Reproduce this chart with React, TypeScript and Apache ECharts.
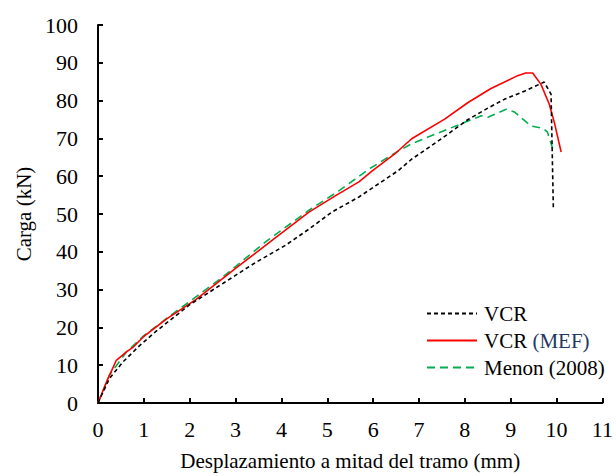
import React, { useEffect, useRef } from "react";
import * as echarts from "echarts";

const vcrX = [0, 0.25, 0.54, 0.9, 1.27, 2.0, 2.72, 3.44, 4.1, 4.6, 5.1, 5.69, 6.12, 6.55, 6.84, 7.5, 8.07, 8.5, 8.87, 9.3, 9.73, 9.88, 9.93];
const vcrY = [0, 6.5, 10.8, 15.1, 19, 26, 31.6, 37.2, 41.8, 46, 50.5, 54.5, 58, 61.5, 64.5, 70, 75, 78, 80.4, 82.5, 84.9, 81.7, 51.6];

const mefX = [0, 0.2, 0.4, 0.62, 0.77, 0.98, 1.49, 2.14, 3.0, 3.88, 4.6, 5.2, 5.69, 5.98, 6.5, 6.84, 7.56, 8.07, 8.57, 9.15, 9.33, 9.48, 9.66, 9.84, 9.95, 10.1];
const mefY = [0, 6, 11.3, 13.5, 14.8, 17.4, 22.2, 27.4, 35.6, 43.8, 50.5, 55, 58.5, 61.4, 66.2, 69.9, 75.1, 79.5, 83.2, 86.6, 87.3, 87.3, 84.3, 79.1, 74.3, 66.4];

const menonX = [0, 0.25, 0.62, 0.98, 1.63, 2.72, 3.66, 4.6, 5.25, 5.9, 6.47, 6.84, 7.64, 8.36, 8.5, 8.9, 9.08, 9.44, 9.7, 9.8, 9.95];
const menonY = [0, 7.4, 13.5, 17.6, 23.6, 33.3, 42.7, 51, 56.1, 61.8, 66.1, 68.6, 72.5, 76.0, 75.6, 77.7, 77.0, 73.3, 72.7, 71.7, 66];

const xTicks = { min: 0, max: 11, interval: 1 };
const yTicks = { min: 0, max: 100, interval: 10 };

const seriesNames = ["VCR", "VCR (MEF)", "Menon (2008)"];

const zip = (xs: number[], ys: number[]) => xs.map((x, i) => [x, ys[i]]);

const FONT = "Liberation Serif";

export default function App() {
  const ref = useRef<HTMLDivElement>(null);
  useEffect(() => {
    if (!ref.current) return;
    const chart = echarts.init(ref.current, undefined, { renderer: "svg" });
    const axisCommon = {
      axisLine: { show: true, lineStyle: { color: "#000", width: 2 } },
      axisTick: { show: true, inside: true, length: 5, lineStyle: { color: "#000", width: 2 } },
      splitLine: { show: false },
      nameTextStyle: { color: "#000", fontFamily: FONT, fontSize: 21 },
    };
    chart.setOption({
      animation: false,
      backgroundColor: "#fff",
      textStyle: { fontFamily: FONT },
      grid: { left: 98, right: 11, top: 25, bottom: 68, containLabel: false },
      xAxis: {
        type: "value",
        ...xTicks,
        ...axisCommon,
        name: "Desplazamiento a mitad del tramo (mm)",
        nameLocation: "middle",
        nameGap: 47,
        axisLabel: { color: "#000", fontFamily: FONT, fontSize: 22, margin: 15 },
      },
      yAxis: {
        type: "value",
        ...yTicks,
        ...axisCommon,
        name: "Carga (kN)",
        nameLocation: "middle",
        nameGap: 62,
        axisLabel: { color: "#000", fontFamily: FONT, fontSize: 22, margin: 20 },
      },
      legend: {
        show: true,
        orient: "vertical",
        left: 421,
        top: 298,
        itemWidth: 50,
        itemHeight: 14,
        itemGap: 6,
        data: seriesNames,
        itemStyle: { opacity: 0 },
        formatter: (n: string) => (n === "VCR (MEF)" ? "VCR {b|(MEF)}" : n),
        textStyle: {
          color: "#000",
          fontFamily: FONT,
          fontSize: 21,
          padding: [0, 0, 0, 2],
          rich: { b: { color: "#1f3864", fontFamily: FONT, fontSize: 21 } },
        },
      },
      series: [
        {
          name: seriesNames[0],
          type: "line",
          symbol: "none",
          data: zip(vcrX, vcrY),
          lineStyle: { color: "#000", width: 1.6, type: [4, 3] },
          itemStyle: { color: "#000" },
          z: 3,
        },
        {
          name: seriesNames[1],
          type: "line",
          symbol: "none",
          data: zip(mefX, mefY),
          lineStyle: { color: "#ff0000", width: 1.6 },
          itemStyle: { color: "#ff0000" },
          z: 2,
        },
        {
          name: seriesNames[2],
          type: "line",
          symbol: "none",
          data: zip(menonX, menonY),
          lineStyle: { color: "#00b050", width: 1.6, type: [8, 5] },
          itemStyle: { color: "#00b050" },
          z: 1,
        },
      ],
    });
    return () => chart.dispose();
  }, []);
  return (
    <div
      ref={ref}
      style={{ position: "fixed", left: 0, top: 0, width: 616, height: 476, background: "#fff" }}
    />
  );
}
